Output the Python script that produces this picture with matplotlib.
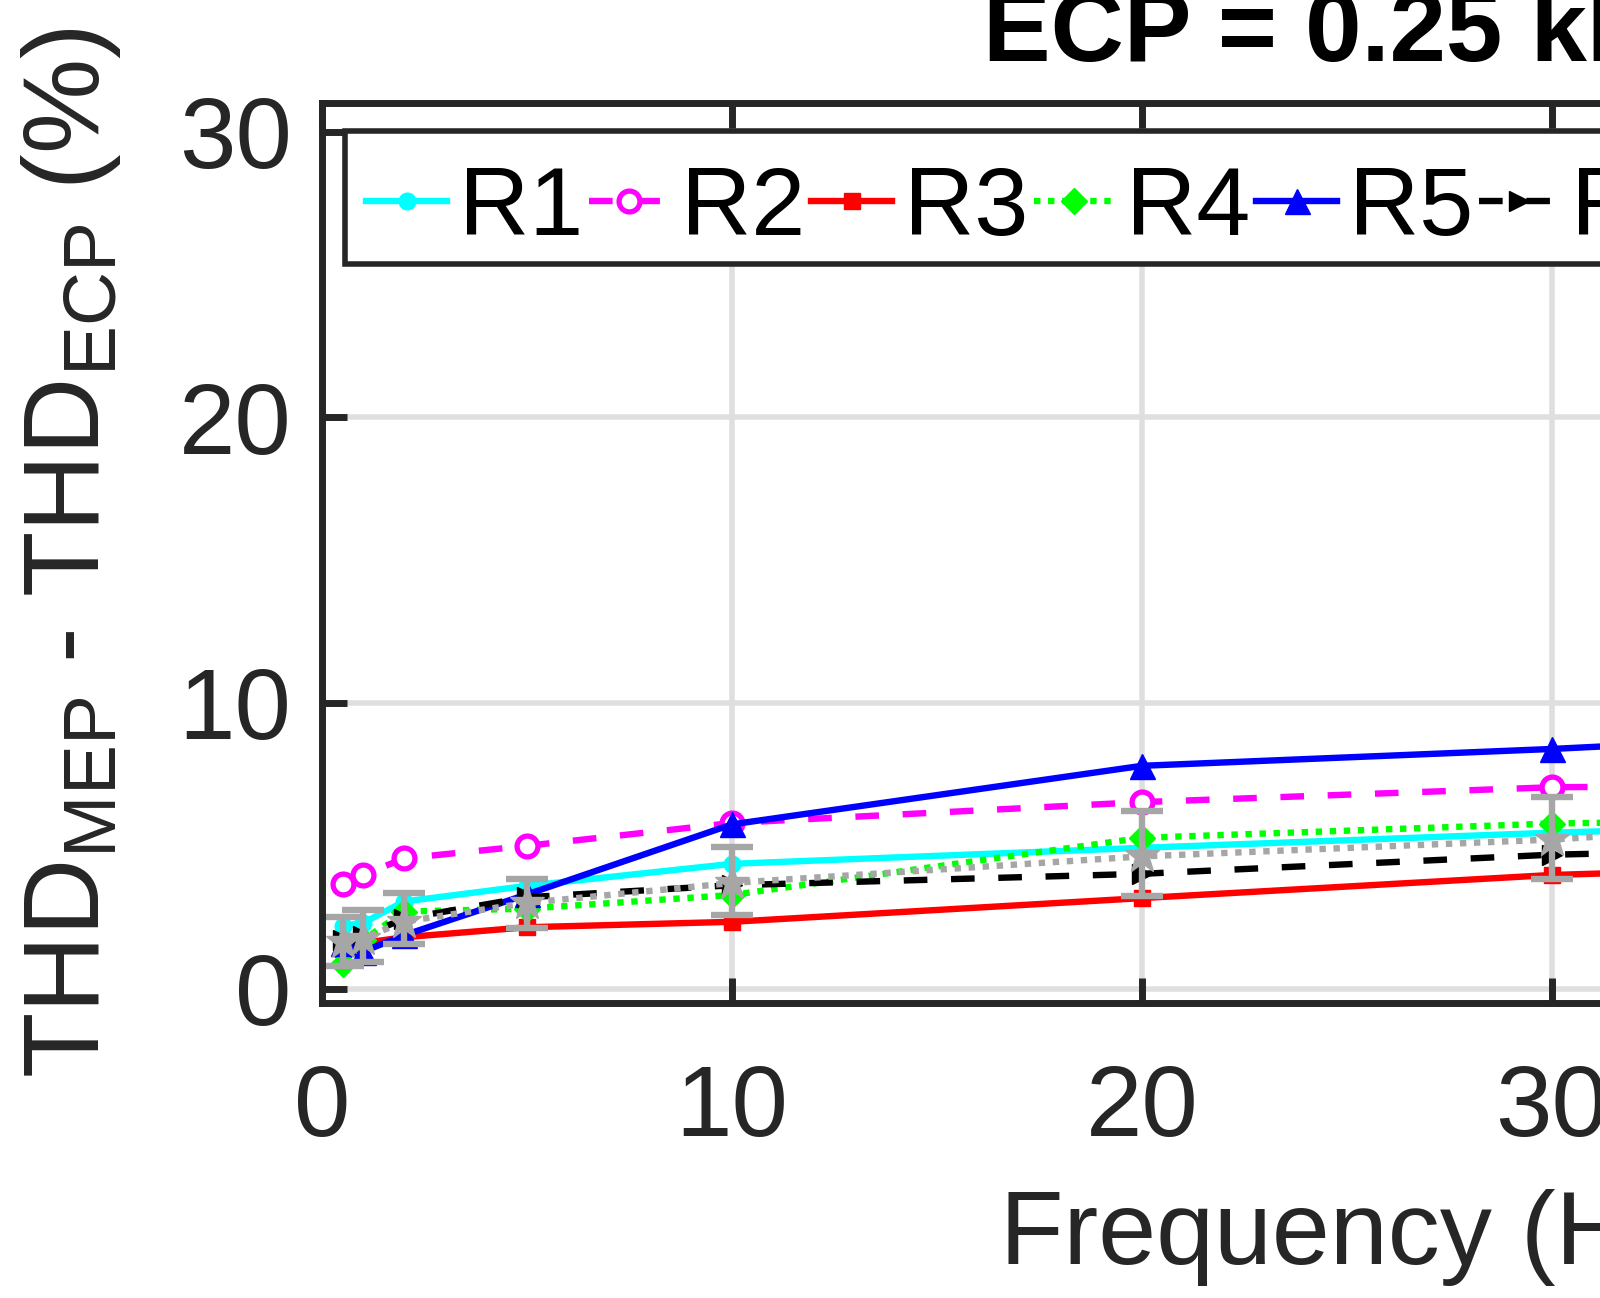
import numpy as np
import matplotlib
matplotlib.use("Agg")
import matplotlib.pyplot as plt
import matplotlib.transforms as mtransforms

# ------------------------------------------------------------
# Data
# ------------------------------------------------------------
freq = [0.5, 1, 2, 5, 10, 20, 30, 40]

r1 = [2.20, 2.30, 3.05, 3.60, 4.37, 4.93, 5.46, 5.85]
r2 = [3.66, 3.98, 4.56, 5.00, 5.80, 6.53, 7.05, 7.15]
r3 = [1.40, 1.60, 1.80, 2.15, 2.34, 3.17, 3.98, 4.40]
r4 = [0.85, 1.70, 2.70, 2.80, 3.28, 5.28, 5.78, 6.00]
r5 = [1.60, 1.30, 1.87, 3.30, 5.75, 7.80, 8.39, 9.10]
r6 = [1.70, 1.85, 2.45, 3.20, 3.62, 4.02, 4.69, 5.00]

mean_vals = [1.65, 1.75, 2.35, 3.00, 3.70, 4.63, 5.22, 6.10]
mean_hi = [2.50, 2.75, 3.35, 3.84, 4.95, 6.22, 6.70, 7.60]
mean_lo = [0.78, 0.93, 1.55, 2.12, 2.57, 3.24, 3.84, 4.60]

labels = ["R1", "R2", "R3", "R4", "R5", "R6", "Mean"]

x_ticks = [0, 10, 20, 30, 40, 50]
y_ticks = [0, 10, 20, 30]

# ------------------------------------------------------------
# Style
# ------------------------------------------------------------
plt.rcParams.update({
    "font.family": ["Liberation Sans", "DejaVu Sans"],
    "mathtext.fontset": "custom",
    "mathtext.rm": "Liberation Sans",
    "mathtext.it": "Liberation Sans:italic",
    "mathtext.bf": "Liberation Sans:bold",
    "lines.scale_dashes": True,
})

AX_COL = "#262626"
GRID_COL = "#dfdfdf"
LW = 4.6

fig = plt.figure(figsize=(16, 12.98), dpi=100)
fig.patch.set_facecolor("white")
ax = fig.add_axes([0.2013, 0.2273, 1.281, 0.6934])

# grid drawn by hand so the tick marks stay on top of it
for xv in x_ticks:
    ax.axvline(xv, color=GRID_COL, lw=4.0, zorder=0.3)
for yv in y_ticks:
    ax.axhline(yv, color=GRID_COL, lw=4.0, zorder=0.3)

ax.plot(freq, r1, color="cyan", lw=LW, ls="-", marker="o", ms=12,
        mfc="cyan", mec="cyan", label=labels[0])
ax.plot(freq, r2, color="magenta", lw=LW, ls=(0, (3.7, 3.7)), marker="o", ms=15,
        mfc="white", mec="magenta", mew=3.8, label=labels[1])
ax.plot(freq, r3, color="red", lw=LW, ls="-", marker="s", ms=11,
        mfc="red", mec="red", label=labels[2])
ax.plot(freq, r4, color="#00ff00", lw=LW, ls=(0, (1, 1.2)), marker="D", ms=13,
        mfc="#00ff00", mec="#00ff00", label=labels[3])
ax.plot(freq, r5, color="blue", lw=LW, ls="-", marker="^", ms=18,
        mfc="blue", mec="blue", label=labels[4])
ax.plot(freq, r6, color="black", lw=LW, ls=(0, (3.7, 3.7)), marker=">", ms=14,
        mfc="black", mec="black", label=labels[5])

yerr = [np.array(mean_vals) - np.array(mean_lo),
        np.array(mean_hi) - np.array(mean_vals)]
ax.errorbar(freq, mean_vals, yerr=yerr, color="#a6a6a6", lw=LW,
            ls=(0, (1, 1.2)), marker="*", ms=26, mfc="#a6a6a6", mec="#a6a6a6",
            elinewidth=LW, capsize=15, capthick=LW, label=labels[6])

# ------------------------------------------------------------
# Axes
# ------------------------------------------------------------
ax.set_xlim(0, 50)
ax.set_ylim(-0.5, 31)
ax.set_xticks(x_ticks)
ax.set_yticks(y_ticks)

for sp in ax.spines.values():
    sp.set_color(AX_COL)
    sp.set_linewidth(5.0)
    sp.set_zorder(5)

ax.tick_params(axis="both", direction="in", length=18, width=5.0,
               colors=AX_COL, labelsize=73, top=True, right=True, zorder=5)
ax.tick_params(axis="x", pad=43)
ax.tick_params(axis="y", pad=22)

ax.set_xlabel("Frequency (Hz)", fontsize=75, color=AX_COL)
ax.xaxis.set_label_coords((1359 - 322) / 2050, -(1189 - 1003) / 900)
ax.xaxis.label.set_verticalalignment("top")
ax.xaxis.label.set_horizontalalignment("center")

ax.set_ylabel(r"THD$_{\mathrm{MEP}}$ - THD$_{\mathrm{ECP}}$ (%)",
              fontsize=77, color=AX_COL, labelpad=40)

ax.set_title("ECP = 0.25 kHz", fontsize=73, fontweight="bold",
             color="black", pad=30)

leg = ax.legend(loc="upper left", bbox_to_anchor=(345 / 1600, 1 - 131 / 1298),
                bbox_transform=fig.transFigure, ncol=7, fontsize=70,
                frameon=True, fancybox=False, framealpha=1,
                handlelength=0.83, handletextpad=0.12, columnspacing=0.06,
                borderpad=0.22, borderaxespad=0)
leg.get_frame().set_edgecolor(AX_COL)
leg.get_frame().set_linewidth(4.0)
leg.set_zorder(6)

# nudge legend contents down a little inside the frame
shift = mtransforms.ScaledTranslation(0, -9 / 72, fig.dpi_scale_trans)
for t in leg.get_texts():
    t.set_transform(t.get_transform() + shift)
for h in leg.legend_handles:
    h.set_transform(h.get_transform() + shift)

fig.savefig("out.png", dpi=100, facecolor="white")
